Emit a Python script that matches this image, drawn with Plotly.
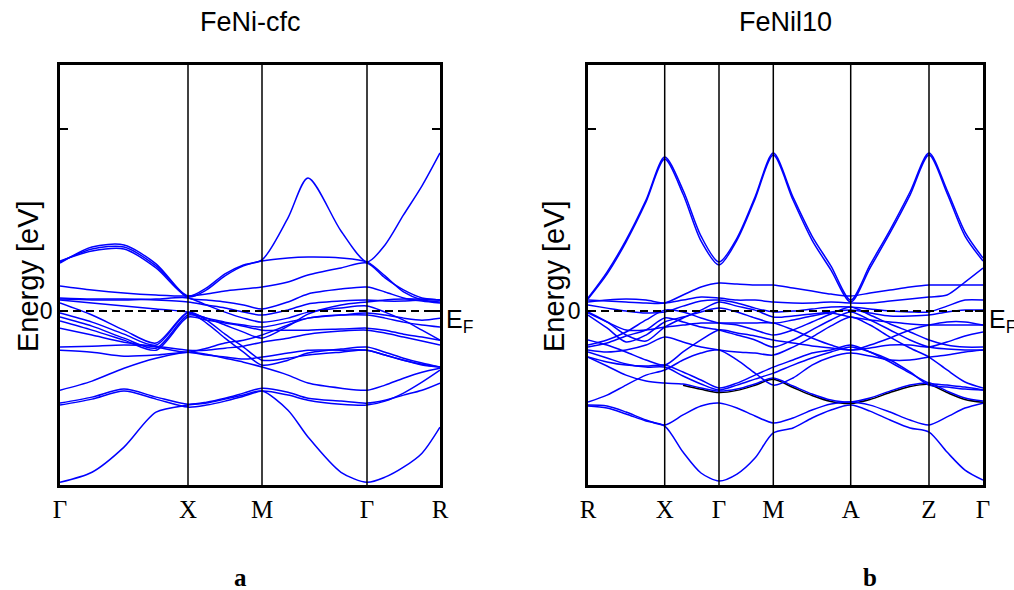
import plotly.graph_objects as go

# ---------------- Left panel: FeNi-cfc ----------------
cfc_title = "FeNi-cfc"
cfc_labels = ["Γ", "X", "M", "Γ", "R"]
cfc_label_k = [0.0, 1.28, 2.02, 3.07, 3.80]
cfc_k = [0.0, 0.32, 0.64, 0.96, 1.28, 1.465, 1.65, 1.835, 2.02,
         2.28, 2.48, 2.81, 3.07, 3.25, 3.435, 3.62, 3.80]

cfc_b01 = [2.70, 3.41, 3.52, 2.48, 0.83, 1.27, 2.04, 2.53, 2.81, 5.12, 7.31, 4.40, 2.70, 3.63, 5.28, 6.88, 8.69]
cfc_b02 = [2.64, 3.52, 3.63, 2.59, 0.72, 0.61, 0.50, 0.33, 0.11, 0.50, 0.94, 1.21, 1.32, 1.05, 0.72, 0.55, 0.44]
cfc_b03 = [2.75, 3.30, 3.41, 2.37, 0.77, 1.16, 1.93, 2.48, 2.75, 2.92, 2.97, 2.92, 2.70, 1.93, 1.05, 0.61, 0.50]
cfc_b04 = [1.38, 1.16, 0.99, 0.88, 0.83, 0.94, 1.10, 1.21, 1.32, 1.60, 1.98, 2.37, 2.64, 1.82, 1.16, 0.72, 0.61]
cfc_b05 = [0.72, 0.66, 0.66, 0.61, 0.50, 0.33, 0.17, -0.06, -0.22, 0.06, 0.39, 0.55, 0.61, 0.55, 0.55, 0.61, 0.61]
cfc_b06 = [0.61, 0.44, 0.28, 0.11, -0.06, -0.39, -0.77, -1.16, -1.49, -0.83, -0.17, 0.33, 0.50, 0.61, 0.66, 0.66, 0.61]
cfc_b07 = [0.44, -0.22, -1.05, -1.76, -0.06, -0.50, -1.27, -1.98, -2.70, -2.59, -2.42, -2.26, -2.15, -2.42, -2.70, -2.92, -3.08]
cfc_b08 = [-0.11, -0.61, -1.27, -1.87, -0.11, -0.66, -1.49, -2.26, -2.97, -2.70, -2.31, -2.09, -1.98, -2.26, -2.59, -2.86, -3.08]
cfc_b09 = [-0.33, -0.83, -1.49, -2.04, -0.22, -0.39, -0.61, -0.77, -0.88, -0.61, -0.39, -0.22, -0.11, -0.22, -0.39, -0.50, -0.39]
cfc_b10 = [-0.55, -1.05, -1.60, -2.15, -0.33, -0.50, -0.66, -0.83, -1.05, -1.05, -1.05, -0.99, -0.94, -1.05, -1.27, -1.43, -1.60]
cfc_b11 = [-0.94, -1.32, -1.71, -1.98, -2.26, -2.04, -1.76, -1.60, -1.32, -0.77, -0.39, -0.22, -0.22, -0.39, -0.61, -0.77, -0.88]
cfc_b12 = [-1.98, -1.93, -1.87, -1.93, -2.15, -2.15, -2.04, -1.93, -1.71, -1.49, -1.27, -1.10, -1.05, -1.21, -1.43, -1.65, -1.87]
cfc_b13 = [-2.15, -2.26, -2.48, -2.42, -2.26, -2.42, -2.53, -2.64, -2.53, -2.31, -2.15, -2.15, -2.15, -2.42, -2.70, -2.97, -3.08]
cfc_b14 = [-4.35, -3.85, -3.14, -2.59, -2.26, -2.37, -2.59, -2.81, -3.08, -3.52, -3.96, -4.24, -4.35, -4.07, -3.69, -3.36, -3.14]
cfc_b15 = [-5.06, -4.73, -4.29, -4.73, -5.12, -5.01, -4.79, -4.51, -4.24, -4.46, -4.79, -4.95, -5.06, -4.90, -4.62, -4.35, -3.96]
cfc_b16 = [-5.17, -4.84, -4.40, -4.84, -5.28, -5.17, -4.95, -4.68, -4.40, -4.62, -4.90, -5.12, -5.17, -4.95, -4.51, -3.91, -3.25]
cfc_b17 = [-9.41, -8.86, -7.48, -5.56, -5.17, -5.06, -4.84, -4.62, -4.40, -5.45, -6.92, -8.86, -9.41, -9.13, -8.58, -7.81, -6.38]
cfc_b18 = [0.66, 0.61, 0.61, 0.66, 0.72, 0.33, -0.06, -0.39, -0.61, -0.39, -0.06, 0.17, 0.28, -0.06, -0.50, -1.05, -1.60]

cfc_bands = [cfc_b01, cfc_b02, cfc_b03, cfc_b04, cfc_b05, cfc_b06, cfc_b07, cfc_b08, cfc_b09,
             cfc_b10, cfc_b11, cfc_b12, cfc_b13, cfc_b14, cfc_b15, cfc_b16, cfc_b17, cfc_b18]

# ---------------- Right panel: FeNil10 ----------------
l10_title = "FeNil10"
l10_labels = ["R", "X", "Γ", "M", "A", "Z", "Γ"]
l10_label_k = [0.0, 0.767, 1.31, 1.853, 2.627, 3.41, 3.95]
l10_k = [0.0, 0.19, 0.38, 0.58, 0.767, 0.95, 1.13, 1.31, 1.49, 1.67, 1.853,
         2.05, 2.24, 2.43, 2.627, 2.82, 3.02, 3.22, 3.41, 3.59, 3.77, 3.95]

l10_b01 = [0.71, 2.14, 3.90, 6.10, 8.46, 6.65, 4.12, 2.69, 4.01, 6.26, 8.68, 6.26, 4.12, 2.47, 0.60, 2.53, 4.45, 6.54, 8.68, 6.65, 4.34, 2.91]
l10_b02 = [0.66, 2.03, 3.79, 5.99, 8.35, 6.43, 3.85, 2.53, 3.90, 6.15, 8.57, 6.10, 3.90, 2.25, 0.49, 2.36, 4.29, 6.37, 8.57, 6.48, 4.12, 2.75]
l10_b03 = [0.60, 0.55, 0.49, 0.44, 0.44, 0.88, 1.32, 1.54, 1.48, 1.43, 1.43, 1.26, 1.10, 0.93, 0.82, 0.99, 1.15, 1.32, 1.43, 1.43, 1.43, 1.43]
l10_b04 = [0.49, 0.60, 0.66, 0.60, 0.44, 0.60, 0.77, 0.71, 0.60, 0.60, 0.49, 0.44, 0.44, 0.49, 0.44, 0.44, 0.55, 0.66, 0.77, 0.88, 1.59, 2.36]
l10_b05 = [0.33, 0.16, 0.00, -0.11, -0.05, 0.27, 0.55, 0.60, 0.44, 0.16, -0.05, 0.00, 0.11, 0.22, 0.22, 0.11, 0.00, -0.05, -0.05, 0.27, 0.60, 0.60]
l10_b06 = [-0.05, -0.60, -1.32, -1.65, -0.88, -0.38, 0.05, 0.49, 0.27, 0.05, -0.33, -0.27, -0.16, -0.05, 0.05, -0.11, -0.27, -0.27, -0.22, -0.05, 0.05, 0.05]
l10_b07 = [-0.22, -0.93, -1.70, -1.32, -0.60, -0.33, -0.05, 0.16, -0.05, -0.38, -0.66, -0.49, -0.27, -0.11, -0.33, -0.49, -0.60, -0.71, -0.77, -0.77, -0.77, -0.77]
l10_b08 = [-1.87, -1.59, -1.15, -0.49, 0.05, -0.05, -0.38, -0.66, -0.77, -1.04, -1.32, -1.04, -0.60, -0.16, 0.22, -0.22, -0.71, -1.15, -1.59, -1.87, -1.98, -1.98]
l10_b09 = [-1.98, -1.76, -1.37, -1.04, -0.38, -0.60, -0.88, -1.04, -1.32, -1.59, -1.98, -1.59, -1.04, -0.49, -0.05, -0.49, -1.04, -1.59, -1.98, -2.09, -2.14, -2.14]
l10_b10 = [-2.14, -2.25, -2.14, -1.87, -1.43, -1.70, -1.98, -2.14, -2.25, -2.31, -2.42, -1.98, -1.43, -0.82, -0.33, -0.77, -1.43, -2.03, -2.53, -3.24, -3.90, -4.23]
l10_b11 = [-2.53, -2.80, -2.97, -3.02, -2.97, -3.35, -3.79, -4.23, -3.96, -3.52, -3.08, -2.69, -2.31, -2.14, -1.87, -2.25, -2.80, -3.41, -3.96, -4.07, -4.18, -4.34]
l10_b12 = [-2.25, -2.58, -2.91, -3.08, -3.08, -3.57, -4.01, -4.34, -4.07, -3.74, -3.41, -2.97, -2.58, -2.25, -1.98, -2.25, -2.69, -3.35, -4.07, -4.18, -4.29, -4.34]
l10_b13 = [-5.00, -4.62, -4.07, -3.52, -3.24, -2.69, -2.31, -2.14, -2.69, -3.41, -4.07, -3.68, -2.97, -2.53, -2.31, -2.47, -2.69, -2.69, -2.53, -2.42, -2.25, -2.14]
l10_b14 = [-5.17, -5.22, -5.55, -5.99, -6.26, -5.71, -5.22, -5.06, -5.33, -5.77, -6.15, -5.88, -5.44, -5.11, -5.00, -5.17, -5.55, -5.99, -6.26, -5.82, -5.33, -5.06]
l10_b15 = [-5.22, -5.33, -5.66, -6.04, -6.32, -7.75, -8.90, -9.34, -8.96, -8.08, -6.70, -6.43, -5.88, -5.44, -5.17, -5.50, -5.99, -6.43, -6.65, -7.75, -8.74, -9.29]
l10_b16 = [-2.53, -3.02, -3.52, -3.85, -3.96, -4.01, -4.23, -4.40, -4.29, -4.01, -3.68, -4.12, -4.56, -4.89, -5.00, -4.78, -4.40, -4.07, -3.96, -4.40, -4.78, -4.95]
l10_b17 = [-1.59, -1.87, -2.25, -2.69, -2.97, -2.25, -1.59, -1.04, -1.21, -1.37, -1.59, -1.76, -1.92, -2.03, -2.14, -2.03, -1.87, -1.87, -1.98, -1.70, -1.37, -1.15]
l10_b18 = [-0.11, -0.60, -1.04, -1.04, -0.88, -0.77, -0.66, -0.66, -0.66, -0.66, -0.66, -1.04, -1.48, -1.87, -2.14, -1.87, -1.48, -1.04, -0.77, -0.60, -0.60, -0.77]

l10_bands = [l10_b01, l10_b02, l10_b03, l10_b04, l10_b05, l10_b06, l10_b07, l10_b08, l10_b09,
             l10_b10, l10_b11, l10_b12, l10_b13, l10_b14, l10_b15, l10_b16, l10_b17, l10_b18]

# black band, lying just under one of the blue ones (from X-Γ onward)
l10_black_k = l10_k[5:]
l10_black = [-4.08, -4.30, -4.48, -4.36, -4.08, -3.75, -4.20, -4.64, -4.97, -5.08, -4.86, -4.48,
             -4.15, -4.04, -4.48, -4.86, -5.02]

e_min, e_max = -9.56, 13.52
y_ticks = [0, 10]
y_ticktext = ["0", ""]

W, H = 1014, 590
BLUE = "#0000ff"

fig = go.Figure()

fig.add_trace(go.Scatter(x=l10_black_k, y=l10_black, mode="lines", xaxis="x2", yaxis="y2",
                         line=dict(color="black", width=1.5, shape="spline", smoothing=0.8),
                         showlegend=False, hoverinfo="skip"))

for band in cfc_bands:
    fig.add_trace(go.Scatter(x=cfc_k, y=band, mode="lines", xaxis="x", yaxis="y",
                             line=dict(color=BLUE, width=1.5, shape="spline", smoothing=0.8),
                             showlegend=False, hoverinfo="skip"))
for band in l10_bands:
    fig.add_trace(go.Scatter(x=l10_k, y=band, mode="lines", xaxis="x2", yaxis="y2",
                             line=dict(color=BLUE, width=1.5, shape="spline", smoothing=0.8),
                             showlegend=False, hoverinfo="skip"))

ydom = [105 / H, 525 / H]
common_x = dict(showgrid=False, zeroline=False, showline=True, linecolor="black", linewidth=2.5,
                mirror=True, ticks="", automargin=False,
                tickfont=dict(family="Liberation Serif", size=25, color="black"))
common_y = dict(showgrid=False, zeroline=False, showline=True, linecolor="black", linewidth=2.5,
                mirror="ticks", ticks="inside", ticklen=8, tickwidth=2, tickcolor="black",
                automargin=False,
                range=[e_min, e_max], tickvals=y_ticks, ticktext=y_ticktext,
                tickfont=dict(family="Arial, Liberation Sans", size=23, color="black"))

fig.update_layout(
    width=W, height=H, margin=dict(l=0, r=0, t=0, b=0, autoexpand=False),
    paper_bgcolor="white", plot_bgcolor="white", showlegend=False,
    xaxis=dict(domain=[60 / W, 440 / W], range=[0, cfc_label_k[-1]], anchor="y",
               tickvals=cfc_label_k, ticktext=cfc_labels, **common_x),
    yaxis=dict(domain=ydom, anchor="x", **common_y),
    xaxis2=dict(domain=[588 / W, 983 / W], range=[0, l10_label_k[-1]], anchor="y2",
                tickvals=l10_label_k, ticktext=l10_labels, **common_x),
    yaxis2=dict(domain=ydom, anchor="x2", **common_y),
)

shapes = []
for kx in cfc_label_k[1:-1]:
    shapes.append(dict(type="line", xref="x", yref="y domain", x0=kx, x1=kx, y0=0, y1=1,
                       line=dict(color="black", width=1.5), layer="above"))
for kx in l10_label_k[1:-1]:
    shapes.append(dict(type="line", xref="x2", yref="y2 domain", x0=kx, x1=kx, y0=0, y1=1,
                       line=dict(color="black", width=1.5), layer="above"))
shapes.append(dict(type="line", xref="x domain", yref="y", x0=0, x1=1, y0=0, y1=0,
                   line=dict(color="black", width=2, dash="8px,5px"), layer="above"))
shapes.append(dict(type="line", xref="x2 domain", yref="y2", x0=0, x1=1, y0=0, y1=0,
                   line=dict(color="black", width=2, dash="8px,5px"), layer="above"))
fig.update_layout(shapes=shapes)

title_font = dict(family="Arial, Liberation Sans", size=27, color="black")
label_font = dict(family="Arial, Liberation Sans", size=29, color="black")
ef_font = dict(family="Arial, Liberation Sans", size=25, color="black")
letter_font = dict(family="Liberation Serif", size=25, color="black")
annotations = [
    dict(text=cfc_title, x=250 / W, y=1 - 22 / H, xref="paper", yref="paper", showarrow=False,
         font=title_font, xanchor="center", yanchor="middle"),
    dict(text=l10_title, x=785 / W, y=1 - 22 / H, xref="paper", yref="paper", showarrow=False,
         font=title_font, xanchor="center", yanchor="middle"),
    dict(text="Energy [eV]", x=28 / W, y=1 - 276 / H, xref="paper", yref="paper", showarrow=False,
         font=label_font, textangle=-90, xanchor="center", yanchor="middle"),
    dict(text="Energy [eV]", x=554 / W, y=1 - 276 / H, xref="paper", yref="paper", showarrow=False,
         font=label_font, textangle=-90, xanchor="center", yanchor="middle"),
    dict(text="E<sub>F</sub>", x=444 / W, y=1 - 321 / H, xref="paper", yref="paper", showarrow=False,
         font=ef_font, xanchor="left", yanchor="middle"),
    dict(text="E<sub>F</sub>", x=987 / W, y=1 - 321 / H, xref="paper", yref="paper", showarrow=False,
         font=ef_font, xanchor="left", yanchor="middle"),
    dict(text="<b>a</b>", x=240 / W, y=1 - 577 / H, xref="paper", yref="paper", showarrow=False,
         font=letter_font, xanchor="center", yanchor="middle"),
    dict(text="<b>b</b>", x=870 / W, y=1 - 577 / H, xref="paper", yref="paper", showarrow=False,
         font=letter_font, xanchor="center", yanchor="middle"),
]
fig.update_layout(annotations=annotations)

fig.write_html("out.html")
